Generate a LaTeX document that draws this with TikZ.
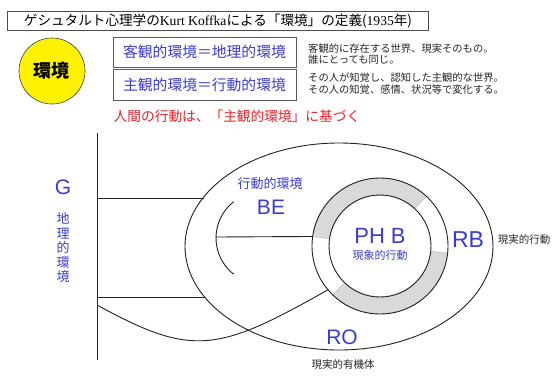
\documentclass[tikz,border=0pt]{standalone}
\usepackage{fontspec}
\setmainfont{Liberation Sans}
\newfontfamily\jp{Noto Sans CJK JP}
\newfontfamily\serifL{Liberation Serif}
\usetikzlibrary{shapes.geometric}
\definecolor{lblue}{HTML}{3C3CD4}
\definecolor{lred}{HTML}{E8232A}
\definecolor{ringgray}{HTML}{D9D9D9}
\definecolor{linec}{HTML}{222222}
\tikzset{
  ln/.style={draw=linec, line width=0.9pt},
  defbox/.style={draw=black!65, line width=0.7pt, minimum width=183pt, inner sep=0pt,
    font=\jp\fontsize{14.8}{16}\selectfont, text=lblue},
  desc/.style={anchor=west, align=left, inner sep=0pt,
    font=\jp\fontsize{10.3}{11.2}\selectfont, text=black!85},
  biglbl/.style={text=lblue, inner sep=0pt, font=\fontsize{21}{23}\selectfont},
  smlbl/.style={text=lblue, inner sep=0pt, font=\jp\fontsize{11}{12}\selectfont},
  blackl/.style={text=black!85, inner sep=0pt, font=\jp\fontsize{10.5}{12}\selectfont}
}
\begin{document}
\begin{tikzpicture}[x=1pt,y=-1pt]
\useasboundingbox (0,0) rectangle (558,384);
\fill[white] (0,0) rectangle (558,384);

% title
\node[draw=black!70, line width=0.7pt, minimum width=421pt, minimum height=19pt, inner sep=0pt,
  font=\jp\fontsize{13.6}{15}\selectfont] (title) at (218,21)
  {ゲシュタルト心理学の{\serifL Kurt Koffka}による「環境」の定義({\serifL 1935}年)};

% yellow circle
\node[circle, fill=yellow, draw=black!75, line width=0.6pt, minimum size=66pt, inner sep=0pt,
  font=\jp\bfseries\fontsize{18}{20}\selectfont] (env) at (52,71) {環境};

% definition boxes
\node[defbox, minimum height=30pt] (obj) at (204.5,52) {客観的環境＝地理的環境};
\node[defbox, minimum height=31pt] (subj) at (204.5,84.5) {主観的環境＝行動的環境};

\node[desc] (objdesc) at (308,54) {客観的に存在する世界、現実そのもの。\\誰にとっても同じ。};
\node[desc] (subjdesc) at (308,83.5) {その人が知覚し、認知した主観的な世界。\\その人の知覚、感情、状況等で変化する。};

\node[text=lred, inner sep=0pt, font=\jp\fontsize{13.7}{16}\selectfont] (rule) at (237,116)
  {人間の行動は、「主観的環境」に基づく};

% ---- diagram ----
\coordinate (vtop) at (97,133);
\coordinate (vbot) at (97,360);
\draw[ln] (vtop) -- (vbot);

\node[ln, ellipse, minimum width=308pt, minimum height=207pt, inner sep=0pt] (bigE) at (339,246.5) {};

\coordinate (g1) at (97,198);
\coordinate (e1) at (203.5,198);
\coordinate (g2) at (97,297);
\coordinate (e2) at (204.5,297);
\draw[ln] (g1) -- (e1);
\draw[ln] (g2) -- (e2);

% ring
\begin{scope}[shift={(380,246)}]
  \filldraw[fill=ringgray, draw=black!30, line width=0.4pt]
    (-172:68) arc[start angle=-172, end angle=-47, radius=68] -- (-47:51)
    arc[start angle=-47, end angle=-172, radius=51] -- cycle;
  \filldraw[fill=ringgray, draw=black!30, line width=0.4pt]
    (6:68) arc[start angle=6, end angle=134, radius=68] -- (134:51)
    arc[start angle=134, end angle=6, radius=51] -- cycle;
\end{scope}
\node[ln, circle, minimum size=136pt, inner sep=0pt] (ringO) at (380,246) {};
\node[ln, circle, minimum size=102pt, inner sep=0pt] (ringI) at (380,246) {};

% BE arc and line
\coordinate (arcS) at (233.7,274.2);
\coordinate (beL) at (216,237);
\draw[ln] (arcS) arc[start angle=128, end angle=232, radius=46];
\draw[ln] (beL) -- (ringO.172);

% RO curve
\coordinate (roS) at (97,305);
\draw[ln] (roS) .. controls (192,357) and (217,352.7) .. (ringO.220);

% labels
\node[biglbl] (G) at (63,187) {G};
\node[text=lblue, inner sep=0pt, align=center, font=\jp\fontsize{13}{14.5}\selectfont] (geo) at (63,248)
  {地\\理\\的\\環\\境};
\node[text=lblue, inner sep=0pt, font=\jp\fontsize{13}{15}\selectfont] (beT) at (270,184) {行動的環境};
\node[biglbl] (BE) at (271,207) {BE};
\node[biglbl, font=\fontsize{22}{24}\selectfont] (PHB) at (380,236) {PH B};
\node[smlbl] (phbT) at (380,255) {現象的行動};
\node[biglbl, font=\fontsize{23}{25}\selectfont] (RB) at (468,240) {RB};
\node[blackl] (rbT) at (524,240) {現実的行動};
\node[biglbl] (RO) at (342,337) {RO};
\node[blackl] (roT) at (343,365) {現実的有機体};
\end{tikzpicture}
\end{document}
